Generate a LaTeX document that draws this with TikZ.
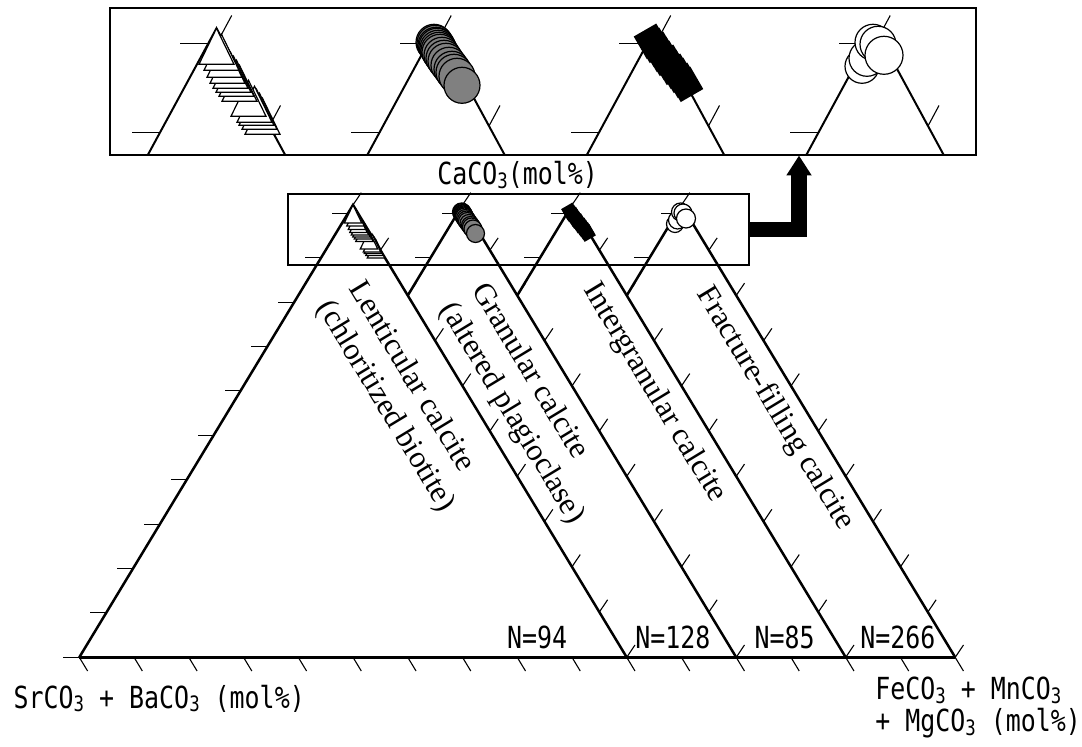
\documentclass[tikz,border=0pt]{standalone}
\usepackage{fontspec}
\setmainfont{Liberation Serif}
\newfontfamily\gothic[FakeStretch=0.82]{DejaVu Sans Mono}
\usetikzlibrary{calc,arrows.meta}

\newcommand{\sbs}[1]{{\fontsize{10.6}{12}\selectfont\raisebox{-0.3ex}{#1}}}

\newcommand{\lenticularmarks}{%
  \foreach \dx/\dy in {46/70,43/65,40/61,38/58,32/52,23/37,20/32,17/28,14/24,11/19,8/13,5/6,0/0}
    {\draw[whitemark] (\dx,\dy) -- ++(-17.5,36) -- ++(35,0) -- cycle;}}
\newcommand{\granularmarks}{%
  \foreach \dx/\dy in {-2/14,-1/15,0/17,1/18,2/20,3/22,4/24,6/27,8/30,10/33,13/37,16/41,18/44,21/48,26/57}
    {\draw[graymark] (\dx,\dy) circle[radius=18];}}
\newcommand{\intergranularmarks}{%
  \foreach \dx/\dy in {-4/13,-1/17,3/21,6/26,9/30,13/34,16/39,20/43,23/47,27/52,30/56}
    {\fill[blackmark] ({\dx+4.76},{\dy-17.76}) -- ++(13,22.52) -- ++(-22.52,13) -- ++(-13,-22.52) -- cycle;}}
\newcommand{\fracturemarks}{%
  \foreach \dx/\dy/\r in {-13/38/17,-8/30/18,-2/14/18,3/16/18,9/27/19}
    {\draw[openmark] (\dx,\dy) circle[radius=\r];}}

\begin{document}
\begin{tikzpicture}[x=0.5pt,y=-0.5pt,
  axis/.style={line width=1.25pt},
  topaxis/.style={line width=1pt},
  tick/.style={line width=0.55pt},
  frame/.style={draw,line width=1.1pt,inner sep=0pt},
  whitemark/.style={draw,fill=white,line width=0.6pt},
  graymark/.style={draw,fill=gray,line width=0.6pt},
  blackmark/.style={fill=black},
  openmark/.style={draw,fill=white,line width=0.6pt},
  gothiclabel/.style={font=\gothic\fontsize{15.2}{16}\selectfont,inner sep=0pt},
  calcitelabel/.style={font=\fontsize{15.5}{18.5}\selectfont,align=left,rotate=-58.8,anchor=north west,inner sep=0pt},
  fatarrow/.style={line width=7.8pt,-{Triangle[length=10pt,width=12pt]}}]
\useasboundingbox (0,0) rectangle (1082,747);

\node[frame,minimum width=433pt,minimum height=73.4pt] (topbox) at (543,81.7) {};
\node[frame,minimum width=230.5pt,minimum height=35.5pt] (midbox) at (518.8,229.5) {};

% ternary diagrams
\foreach \i in {1,...,4} {
  \coordinate (L\i) at ({79.3+109.5*(\i-1)},657.3);
  \coordinate (R\i) at ({626.7+109.5*(\i-1)},657.3);
  \coordinate (A\i) at ({353+109.5*(\i-1)},205);
}
\draw[axis] (L1) -- (A1) -- (R1);
\foreach \i in {2,3,4}
  \draw[axis] ($(L\i)!0.8!(A\i)$) -- (A\i) -- (R\i);
\draw[axis] (L1) -- (R4);

\foreach \k in {0,...,10}
  \draw[tick] ($(L1)!\k*0.09817!(A1)$) -- ++(-16,0);
\foreach \i in {2,3,4}
  \foreach \k in {9,10}
    \draw[tick] ($(L\i)!\k*0.09817!(A\i)$) -- ++(-16,0);
\foreach \i in {1,...,4}
  \foreach \k in {0,...,10}
    \draw[tick] ($(R\i)!\k*0.1!(A\i)$) -- ++(8.3,-12.3);
\foreach \j in {0,...,16}
  \draw[tick] ({79.3+54.74*\j},657.3) -- ++(8.3,13.7);

% enlarged tops
\foreach \i in {1,...,4} {
  \coordinate (T\i) at ({216.5+219.5*(\i-1)},28.3);
  \draw[topaxis] ($(T\i)+(-68.7,126.7)$) -- (T\i) -- ++(68.7,126.7);
  \draw[tick] ($(T\i)+(-8.1,15)$) -- ++(-28,0);
  \draw[tick] ($(T\i)+(-56.6,104.4)$) -- ++(-28,0);
  \draw[tick] ($(T\i)+(4.2,7.7)$) -- ++(11,-20.5);
  \draw[tick] ($(T\i)+(53,97.7)$) -- ++(11,-20.5);
}

\begin{scope}[shift={(T1)}] \lenticularmarks \end{scope}
\begin{scope}[shift={(T2)}] \granularmarks \end{scope}
\begin{scope}[shift={(T3)}] \intergranularmarks \end{scope}
\begin{scope}[shift={(T4)}] \fracturemarks \end{scope}
\begin{scope}[shift={(A1)},scale=0.5] \lenticularmarks \end{scope}
\begin{scope}[shift={(A2)},scale=0.5] \granularmarks \end{scope}
\begin{scope}[shift={(A3)},scale=0.5] \intergranularmarks \end{scope}
\begin{scope}[shift={(A4)},scale=0.5] \fracturemarks \end{scope}

\coordinate (tip) at (799,155.5);
\draw[fatarrow] (midbox.east) -| (tip);

\node[gothiclabel,anchor=base west] (caco) at (437,184.6) {CaCO\sbs{3}(mol\%)};
\node[gothiclabel,anchor=base west] (srba) at (13.3,708.3) {SrCO\sbs{3} + BaCO\sbs{3} (mol\%)};
\node[gothiclabel,anchor=north west,align=left] (femn) at (875,677) {FeCO\sbs{3} + MnCO\sbs{3}\\+ MgCO\sbs{3} (mol\%)};

\node[gothiclabel,anchor=base west] (n94) at (506.7,649) {N=94};
\node[gothiclabel,anchor=base west] (n128) at (635,649) {N=128};
\node[gothiclabel,anchor=base west] (n85) at (754.3,649) {N=85};
\node[gothiclabel,anchor=base west] (n266) at (860,649) {N=266};

\node[calcitelabel] (lenticular) at (367,277) {Lenticular calcite\\(chloritized biotite)};
\node[calcitelabel] (granular) at (490,279) {Granular calcite\\(altered plagioclase)};
\node[calcitelabel] (intergranular) at (601.7,278.3) {Intergranular calcite};
\node[calcitelabel] (fracture) at (715,281.7) {Fracture-filling calcite};
\end{tikzpicture}
\end{document}
